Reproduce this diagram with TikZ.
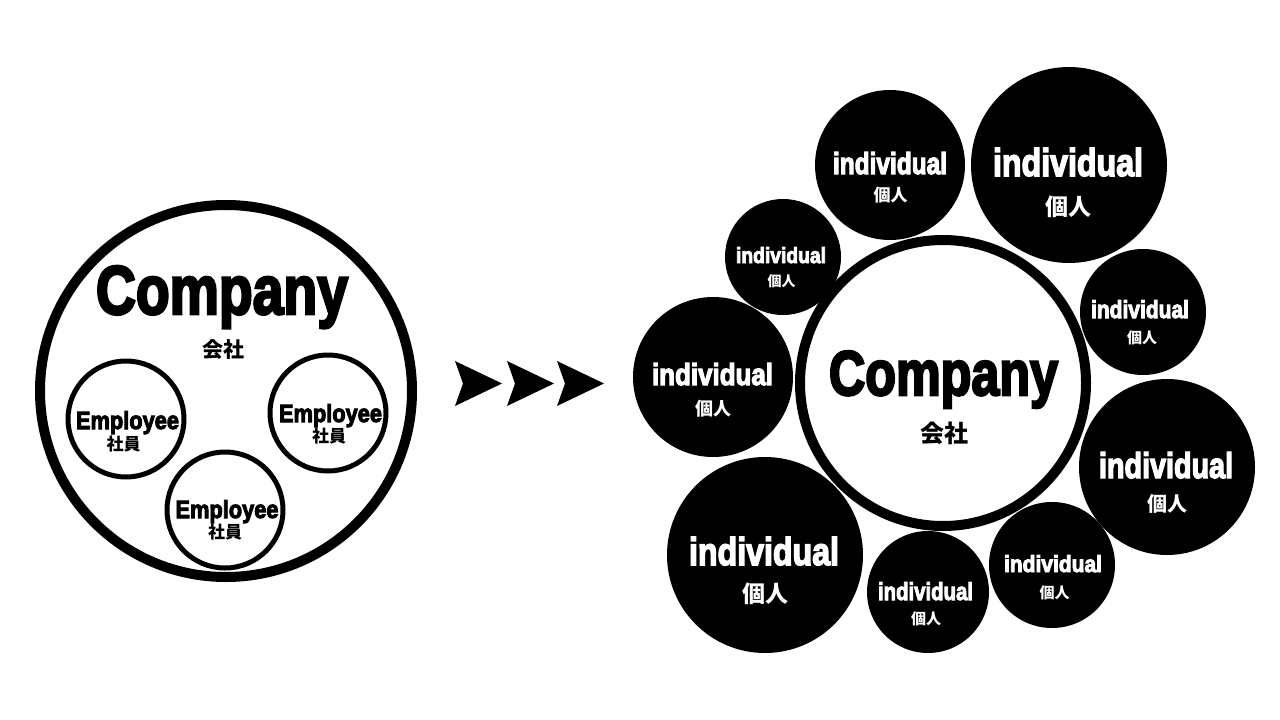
\documentclass[tikz,border=0pt]{standalone}
\usepackage{fontspec}
\usepackage{graphicx}
\newfontfamily\heavyfont[BoldFeatures={FakeBold=4}]{Liberation Sans}
\newfontfamily\jpfont{Noto Sans CJK JP}
\newcommand\fitt[3]{\resizebox{#1pt}{#2pt}{\heavyfont\bfseries #3}}
\newcommand\jpt[2]{{\jpfont\bfseries\fontsize{#1}{#1}\selectfont #2}}
\begin{document}
\begin{tikzpicture}[x=1pt,y=-1pt,
  lbl/.style={inner sep=0pt, anchor=base},
  jlbl/.style={inner sep=0pt, anchor=center},
  bigring/.style={circle, draw=black, line width=10pt, fill=white, inner sep=0pt},
  empring/.style={circle, draw=black, line width=5pt, fill=white, inner sep=0pt, minimum size=116pt},
  indiv/.style={circle, fill=black, inner sep=0pt},
  wlbl/.style={lbl, text=white},
  wjlbl/.style={jlbl, text=white}]
\useasboundingbox[fill=white] (0,0) rectangle (1280,720);

% ---------- left: company with employees ----------
\node[bigring, minimum size=372pt] (lcomp) at (226,391) {};
\node[lbl] (lcompt) at (222,314) {\fitt{252}{48}{Company}};
\node[jlbl] (lcompj) at (223,350) {\jpt{21}{会社}};

\node[empring] (e1) at (126,419) {};
\node[empring] (e2) at (328,413) {};
\node[empring] (e3) at (225,510) {};
\node[lbl] (e1t) at (127.5,429) {\fitt{103}{18}{Employee}};
\node[jlbl] (e1j) at (123.5,444) {\jpt{17}{社員}};
\node[lbl] (e2t) at (330.5,422) {\fitt{103}{18}{Employee}};
\node[jlbl] (e2j) at (329,436) {\jpt{17}{社員}};
\node[lbl] (e3t) at (227,518) {\fitt{103}{18}{Employee}};
\node[jlbl] (e3j) at (225,532) {\jpt{17}{社員}};

% ---------- arrows ----------
\foreach \x in {455,507,557}{
  \fill[black] (\x,361) -- (\x+47,383.5) -- (\x,406) -- (\x+8,383.5) -- cycle;
}

% ---------- right: company ring ----------
\node[bigring, minimum size=286pt] (rcomp) at (943,383) {};
\node[lbl] (rcompt) at (943.5,395) {\fitt{229}{44}{Company}};
\node[jlbl] (rcompj) at (944.5,433) {\jpt{24}{会社}};

% ---------- individuals ----------
\node[indiv, minimum size=150pt] (i1) at (890,165) {};
\node[wlbl] at (890,174) {\fitt{114}{22}{individual}};
\node[wjlbl] at (890.5,195.5) {\jpt{17}{個人}};

\node[indiv, minimum size=196pt] (i2) at (1069,165) {};
\node[wlbl] at (1068,176) {\fitt{150}{28}{individual}};
\node[wjlbl] at (1068.5,206.5) {\jpt{23}{個人}};

\node[indiv, minimum size=116pt] (i3) at (783,257) {};
\node[wlbl] at (781,263) {\fitt{90}{16}{individual}};
\node[wjlbl] at (781.5,281.5) {\jpt{14}{個人}};

\node[indiv, minimum size=160pt] (i4) at (713,377) {};
\node[wlbl] at (712.5,385) {\fitt{121}{22}{individual}};
\node[wjlbl] at (713.5,408.5) {\jpt{18}{個人}};

\node[indiv, minimum size=126pt] (i5) at (1143,312) {};
\node[wlbl] at (1140,318) {\fitt{98}{18}{individual}};
\node[wjlbl] at (1142,338) {\jpt{15}{個人}};

\node[indiv, minimum size=176pt] (i6) at (1167,467) {};
\node[wlbl] at (1166,478) {\fitt{134}{26}{individual}};
\node[wjlbl] at (1167,504) {\jpt{20}{個人}};

\node[indiv, minimum size=196pt] (i7) at (765,555) {};
\node[wlbl] at (764,565) {\fitt{150}{28}{individual}};
\node[wjlbl] at (765,594) {\jpt{23}{個人}};

\node[indiv, minimum size=122pt] (i8) at (928,592) {};
\node[wlbl] at (925.5,600) {\fitt{95}{18}{individual}};
\node[wjlbl] at (926,618.5) {\jpt{15}{個人}};

\node[indiv, minimum size=126pt] (i9) at (1052,565) {};
\node[wlbl] at (1053,572) {\fitt{98}{17}{individual}};
\node[wjlbl] at (1054.5,592.5) {\jpt{15}{個人}};
\end{tikzpicture}
\end{document}
